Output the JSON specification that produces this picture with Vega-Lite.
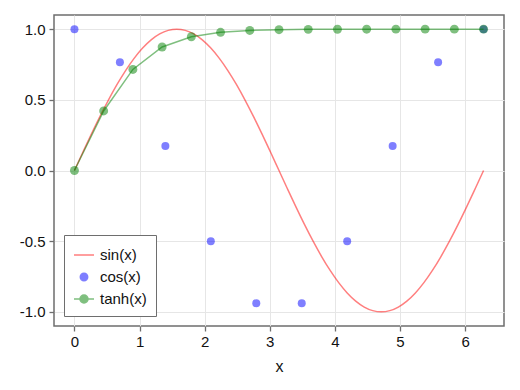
{
  "$schema": "https://vega.github.io/schema/vega-lite/v6.json",
  "width": 450,
  "height": 311,
  "autosize": "none",
  "padding": {"left": 54, "top": 15, "right": 16, "bottom": 64},
  "background": "white",
  "config": {
    "font": "Liberation Sans",
    "view": {"stroke": "#6e6e6e", "strokeWidth": 1.5},
    "axis": {
      "domain": false,
      "grid": true,
      "gridColor": "#e6e6e6",
      "gridWidth": 1,
      "tickColor": "#6e6e6e",
      "tickSize": 5,
      "tickWidth": 1.3,
      "labelFontSize": 15,
      "labelColor": "#111111",
      "labelFont": "Liberation Sans",
      "titleFont": "Liberation Sans",
      "titleFontSize": 16,
      "titleFontWeight": "normal",
      "titleColor": "#111111"
    }
  },
  "datasets": {
    "sin": [
      {"x": 0, "y": 0, "series": "sin(x)"},
      {"x": 0.1309, "y": 0.1305, "series": "sin(x)"},
      {"x": 0.2618, "y": 0.2588, "series": "sin(x)"},
      {"x": 0.3927, "y": 0.3827, "series": "sin(x)"},
      {"x": 0.5236, "y": 0.5, "series": "sin(x)"},
      {"x": 0.6545, "y": 0.6088, "series": "sin(x)"},
      {"x": 0.7854, "y": 0.7071, "series": "sin(x)"},
      {"x": 0.9163, "y": 0.7934, "series": "sin(x)"},
      {"x": 1.0472, "y": 0.866, "series": "sin(x)"},
      {"x": 1.1781, "y": 0.9239, "series": "sin(x)"},
      {"x": 1.309, "y": 0.9659, "series": "sin(x)"},
      {"x": 1.4399, "y": 0.9914, "series": "sin(x)"},
      {"x": 1.5708, "y": 1, "series": "sin(x)"},
      {"x": 1.7017, "y": 0.9914, "series": "sin(x)"},
      {"x": 1.8326, "y": 0.9659, "series": "sin(x)"},
      {"x": 1.9635, "y": 0.9239, "series": "sin(x)"},
      {"x": 2.0944, "y": 0.866, "series": "sin(x)"},
      {"x": 2.2253, "y": 0.7934, "series": "sin(x)"},
      {"x": 2.3562, "y": 0.7071, "series": "sin(x)"},
      {"x": 2.4871, "y": 0.6088, "series": "sin(x)"},
      {"x": 2.618, "y": 0.5, "series": "sin(x)"},
      {"x": 2.7489, "y": 0.3827, "series": "sin(x)"},
      {"x": 2.8798, "y": 0.2588, "series": "sin(x)"},
      {"x": 3.0107, "y": 0.1305, "series": "sin(x)"},
      {"x": 3.1416, "y": 0, "series": "sin(x)"},
      {"x": 3.2725, "y": -0.1305, "series": "sin(x)"},
      {"x": 3.4034, "y": -0.2588, "series": "sin(x)"},
      {"x": 3.5343, "y": -0.3827, "series": "sin(x)"},
      {"x": 3.6652, "y": -0.5, "series": "sin(x)"},
      {"x": 3.7961, "y": -0.6088, "series": "sin(x)"},
      {"x": 3.927, "y": -0.7071, "series": "sin(x)"},
      {"x": 4.0579, "y": -0.7934, "series": "sin(x)"},
      {"x": 4.1888, "y": -0.866, "series": "sin(x)"},
      {"x": 4.3197, "y": -0.9239, "series": "sin(x)"},
      {"x": 4.4506, "y": -0.9659, "series": "sin(x)"},
      {"x": 4.5815, "y": -0.9914, "series": "sin(x)"},
      {"x": 4.7124, "y": -1, "series": "sin(x)"},
      {"x": 4.8433, "y": -0.9914, "series": "sin(x)"},
      {"x": 4.9742, "y": -0.9659, "series": "sin(x)"},
      {"x": 5.1051, "y": -0.9239, "series": "sin(x)"},
      {"x": 5.236, "y": -0.866, "series": "sin(x)"},
      {"x": 5.3669, "y": -0.7934, "series": "sin(x)"},
      {"x": 5.4978, "y": -0.7071, "series": "sin(x)"},
      {"x": 5.6287, "y": -0.6088, "series": "sin(x)"},
      {"x": 5.7596, "y": -0.5, "series": "sin(x)"},
      {"x": 5.8905, "y": -0.3827, "series": "sin(x)"},
      {"x": 6.0214, "y": -0.2588, "series": "sin(x)"},
      {"x": 6.1523, "y": -0.1305, "series": "sin(x)"},
      {"x": 6.2832, "y": 0, "series": "sin(x)"}
    ],
    "cos": [
      {"x": 0, "y": 1, "series": "cos(x)"},
      {"x": 0.6981, "y": 0.766, "series": "cos(x)"},
      {"x": 1.3963, "y": 0.1736, "series": "cos(x)"},
      {"x": 2.0944, "y": -0.5, "series": "cos(x)"},
      {"x": 2.7925, "y": -0.9397, "series": "cos(x)"},
      {"x": 3.4907, "y": -0.9397, "series": "cos(x)"},
      {"x": 4.1888, "y": -0.5, "series": "cos(x)"},
      {"x": 4.8869, "y": 0.1736, "series": "cos(x)"},
      {"x": 5.5851, "y": 0.766, "series": "cos(x)"},
      {"x": 6.2832, "y": 1, "series": "cos(x)"}
    ],
    "tanh": [
      {"x": 0, "y": 0, "series": "tanh(x)"},
      {"x": 0.4488, "y": 0.4212, "series": "tanh(x)"},
      {"x": 0.8976, "y": 0.7149, "series": "tanh(x)"},
      {"x": 1.3464, "y": 0.8735, "series": "tanh(x)"},
      {"x": 1.7952, "y": 0.9463, "series": "tanh(x)"},
      {"x": 2.244, "y": 0.9777, "series": "tanh(x)"},
      {"x": 2.6928, "y": 0.9909, "series": "tanh(x)"},
      {"x": 3.1416, "y": 0.9963, "series": "tanh(x)"},
      {"x": 3.5904, "y": 0.9985, "series": "tanh(x)"},
      {"x": 4.0392, "y": 0.9994, "series": "tanh(x)"},
      {"x": 4.488, "y": 0.9997, "series": "tanh(x)"},
      {"x": 4.9368, "y": 0.9999, "series": "tanh(x)"},
      {"x": 5.3856, "y": 1, "series": "tanh(x)"},
      {"x": 5.8344, "y": 1, "series": "tanh(x)"},
      {"x": 6.2832, "y": 1, "series": "tanh(x)"}
    ]
  },
  "encoding": {
    "x": {
      "field": "x",
      "type": "quantitative",
      "title": "x",
      "scale": {"domain": [-0.314, 6.597], "nice": false, "zero": false},
      "axis": {"values": [0, 1, 2, 3, 4, 5, 6], "labelPadding": 3, "titlePadding": 9}
    },
    "y": {
      "field": "y",
      "type": "quantitative",
      "title": null,
      "scale": {"domain": [-1.1, 1.1], "nice": false, "zero": false},
      "axis": {
        "values": [-1, -0.5, 0, 0.5, 1],
        "labelPadding": 4,
        "labelExpr": "replace(format(datum.value, '.1f'), '\u2212', '-')"
      }
    },
    "color": {
      "field": "series",
      "type": "nominal",
      "scale": {"domain": ["sin(x)", "cos(x)", "tanh(x)"], "range": ["#ff0000", "#0000ff", "#008000"]},
      "legend": {
        "title": null,
        "orient": "bottom-left",
        "offset": 10,
        "padding": 9,
        "strokeColor": "#6e6e6e",
        "fillColor": "white",
        "labelFontSize": 15,
        "labelFont": "Liberation Sans",
        "labelColor": "#111111",
        "rowPadding": 3,
        "symbolSize": 400,
        "symbolStrokeWidth": 1.5,
        "labelOffset": 5,
        "symbolType": {"expr": "datum.value === 'sin(x)' ? 'stroke' : datum.value === 'cos(x)' ? 'M-0.37,0A0.37,0.37,0,1,0,0.37,0A0.37,0.37,0,1,0,-0.37,0Z' : 'M-1,0L1,0M-0.4,0A0.4,0.4,0,1,0,0.4,0A0.4,0.4,0,1,0,-0.4,0Z'"}
      }
    }
  },
  "layer": [
    {
      "data": {"name": "sin"},
      "mark": {"type": "line", "strokeWidth": 1.5, "opacity": 0.5, "interpolate": "monotone"}
    },
    {
      "data": {"name": "cos"},
      "mark": {"type": "point", "filled": true, "size": 64, "opacity": 0.5, "strokeWidth": 0}
    },
    {
      "data": {"name": "tanh"},
      "mark": {"type": "line", "strokeWidth": 1.5, "opacity": 0.5}
    },
    {
      "data": {"name": "tanh"},
      "mark": {"type": "point", "filled": true, "size": 80, "opacity": 0.5, "strokeWidth": 0}
    }
  ]
}
